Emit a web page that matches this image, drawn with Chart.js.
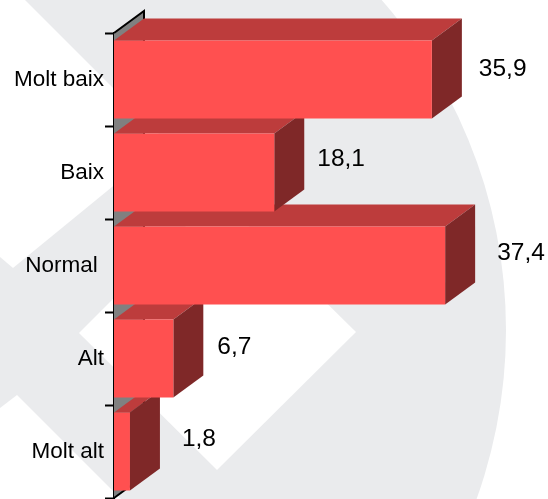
<!DOCTYPE html>
<html>
<head>
<meta charset="utf-8">
<style>
  html, body { margin: 0; padding: 0; background: #fff; }
  canvas { display: block; }
</style>
<script src="https://cdn.jsdelivr.net/npm/chart.js@4/dist/chart.umd.min.js"></script>
</head>
<body>
<canvas id="myChart" width="548" height="499"></canvas>
<script>
const categories = ['Molt baix', 'Baix', 'Normal ', 'Alt', 'Molt alt'];
const values = [35.9, 18.1, 37.4, 6.7, 1.8];

// look of the fake 3D box
const depthX = 30;
const depthY = 22;
const front = '#ff5050';
const topFace = '#bd3c3c';
const sideFace = '#7f2828';
const wall = '#808080';
const watermark = '#eaebed';

// value labels sit unevenly in the original, nudge per bar (left edge from bar end, y from bar centre)
const labelDx = [47, 43, 52, 44, 52];
const labelDy = [-10, -13, -12, -11, -12];

function poly(ctx, pts, color) {
    ctx.fillStyle = color;
    ctx.beginPath();
    pts.forEach((p, i) => i ? ctx.lineTo(p[0], p[1]) : ctx.moveTo(p[0], p[1]));
    ctx.closePath();
    ctx.fill();
}

// pale logo behind the chart: a big disc with white chevrons cut out
const backdrop = {
    id: 'backdrop',
    beforeDraw(chart) {
        const ctx = chart.ctx;
        ctx.save();
        ctx.fillStyle = '#fff';
        ctx.fillRect(0, 0, chart.width, chart.height);
        ctx.fillStyle = watermark;
        ctx.beginPath();
        ctx.arc(6, 330, 500, 0, Math.PI * 2);
        ctx.fill();
        poly(ctx, [[0, 0], [25, 0], [167, 142], [13, 268], [0, 257]], '#fff');
        poly(ctx, [[79, 333], [217, 195], [356, 332], [217, 470]], '#fff');
        poly(ctx, [[0, 408], [17, 395], [121, 499], [0, 499]], '#fff');
        ctx.restore();
    }
};

const box3d = {
    id: 'box3d',
    beforeDatasetsDraw(chart) {
        const ctx = chart.ctx;
        const area = chart.chartArea;
        const l = area.left, t = area.top, b = area.bottom;
        ctx.save();
        poly(ctx, [[l, t], [l + depthX, t - depthY], [l + depthX, b - depthY], [l, b]], wall);
        ctx.strokeStyle = '#000';
        ctx.lineWidth = 2;
        ctx.beginPath();
        ctx.moveTo(l, t);
        ctx.lineTo(l + depthX, t - depthY);
        ctx.lineTo(l + depthX, b - depthY);
        ctx.moveTo(l, b);
        ctx.lineTo(l + depthX, b - depthY);
        ctx.stroke();
        // bottom bar first so the upper ones overlap it
        const bars = chart.getDatasetMeta(0).data;
        for (let i = bars.length - 1; i >= 0; i--) {
            const r = bars[i].getProps(['x', 'y', 'height', 'base']);
            const y0 = r.y - r.height / 2;
            const y1 = r.y + r.height / 2;
            poly(ctx, [[r.base, y0], [r.base + depthX, y0 - depthY], [r.x + depthX, y0 - depthY], [r.x, y0]], topFace);
            poly(ctx, [[r.x, y0], [r.x + depthX, y0 - depthY], [r.x + depthX, y1 - depthY], [r.x, y1]], sideFace);
        }
        ctx.restore();
    },
    afterDatasetsDraw(chart) {
        const ctx = chart.ctx;
        ctx.save();
        ctx.fillStyle = '#000';
        ctx.font = '24.5px "Liberation Sans"';
        ctx.textAlign = 'left';
        ctx.textBaseline = 'middle';
        chart.getDatasetMeta(0).data.forEach((bar, i) => {
            const text = String(values[i]).replace('.', ',');
            ctx.fillText(text, bar.x + labelDx[i], bar.y + labelDy[i]);
        });
        ctx.restore();
    }
};

new Chart(document.getElementById('myChart').getContext('2d'), {
    type: 'bar',
    data: {
        labels: categories,
        datasets: [{
            data: values,
            backgroundColor: front,
            borderWidth: 0,
            barPercentage: 0.84,
            categoryPercentage: 1
        }]
    },
    options: {
        indexAxis: 'y',
        responsive: false,
        animation: false,
        layout: { padding: { top: 33, right: 9, bottom: 0, left: 0 } },
        scales: {
            x: {
                display: false,
                min: 0,
                max: 48
            },
            y: {
                afterFit(scale) { scale.width = 114; },
                grid: {
                    offset: true,
                    drawOnChartArea: false,
                    drawTicks: true,
                    tickLength: 9,
                    tickColor: '#000',
                    tickWidth: 2
                },
                border: { display: true, color: '#000', width: 2 },
                ticks: {
                    color: '#000',
                    padding: 1,
                    autoSkip: false,
                    // lineHeight 0 stops the scale reserving half a label under the last band
                    font: { family: '"Liberation Sans"', size: 22.5, lineHeight: 0 }
                }
            }
        },
        plugins: {
            legend: { display: false },
            tooltip: { enabled: false }
        }
    },
    plugins: [backdrop, box3d]
});
</script>
</body>
</html>
